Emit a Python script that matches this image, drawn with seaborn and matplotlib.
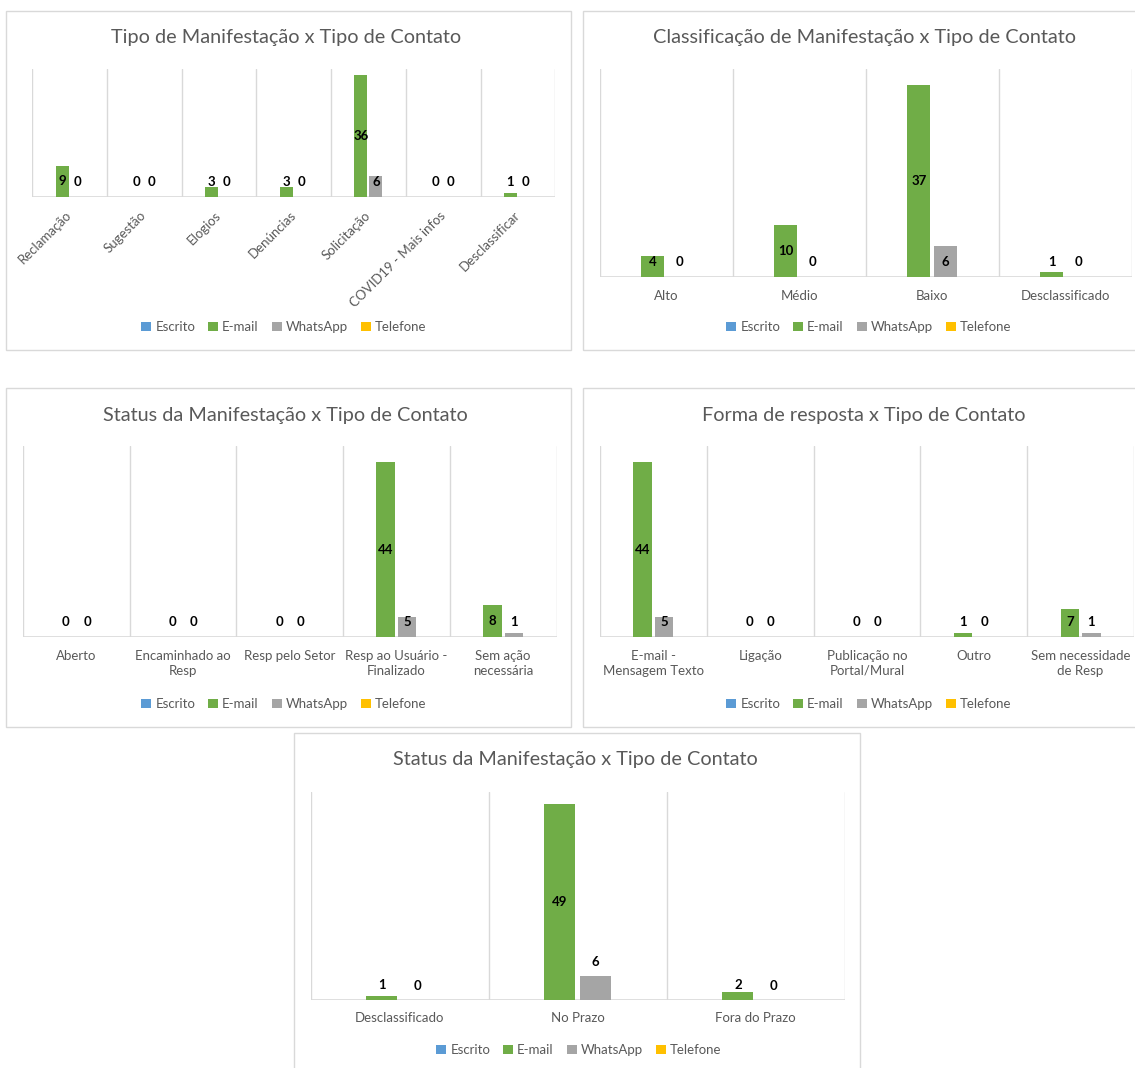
import numpy as np
import pandas as pd
import seaborn as sns
import matplotlib.pyplot as plt
from matplotlib.colors import to_hex
from matplotlib.patches import Patch, Rectangle

# --- data ---
series = ["Escrito", "E-mail", "WhatsApp", "Telefone"]
colors = ["#5B9BD5", "#70AD47", "#A5A5A5", "#FFC000"]

tipo_cats = ["Reclamação", "Sugestão", "Elogios", "Denúncias", "Solicitação",
             "COVID19 - Mais infos", "Desclassificar"]
tipo_email = [9, 0, 3, 3, 36, 0, 1]
tipo_whats = [0, 0, 0, 0, 6, 0, 0]

classif_cats = ["Alto", "Médio", "Baixo", "Desclassificado"]
classif_email = [4, 10, 37, 1]
classif_whats = [0, 0, 6, 0]

status_cats = ["Aberto", "Encaminhado ao\nResp", "Resp pelo Setor",
               "Resp ao Usuário -\nFinalizado", "Sem ação\nnecessária"]
status_email = [0, 0, 0, 44, 8]
status_whats = [0, 0, 0, 5, 1]

forma_cats = ["E-mail -\nMensagem Texto", "Ligação", "Publicação no\nPortal/Mural",
              "Outro", "Sem necessidade\nde Resp"]
forma_email = [44, 0, 0, 1, 7]
forma_whats = [5, 0, 0, 0, 1]

prazo_cats = ["Desclassificado", "No Prazo", "Fora do Prazo"]
prazo_email = [1, 49, 2]
prazo_whats = [0, 6, 0]

W, H = 1135, 1068
TXT = "#595959"
GRID = "#D9D9D9"

sns.set_theme(style="white")
plt.rcParams['font.family'] = ['Lato', 'DejaVu Sans']

fig = plt.figure(figsize=(W / 100, H / 100), dpi=100)
fig.patch.set_facecolor("white")


def frame(x0, y0, x1, y1):
    fig.patches.append(Rectangle((x0 / W, 1 - y1 / H), (x1 - x0) / W, (y1 - y0) / H,
                                 transform=fig.transFigure, fill=False,
                                 edgecolor=GRID, linewidth=1.0))


def panel(box, cats, email, whats, ytop, title, title_xy, legend_xy,
          rotate=False, modes=("center", "center")):
    left, top, right, bottom = box
    ax = fig.add_axes([left / W, 1 - bottom / H, (right - left) / W, (bottom - top) / H])
    ax.patch.set_alpha(0)

    df = pd.DataFrame({
        "cat": cats * 4,
        "tipo": [s for s in series for _ in cats],
        "val": [np.nan] * len(cats) + list(email) + list(whats) + [np.nan] * len(cats),
    })
    sns.barplot(data=df, x="cat", y="val", hue="tipo", order=cats, hue_order=series,
                palette=dict(zip(series, colors)), saturation=1, width=0.8, gap=0.13,
                linewidth=0, errorbar=None, legend=False, ax=ax)

    n = len(cats)
    ax.set_xlim(-0.5, n - 0.5)
    ax.set_ylim(0, ytop)
    for k in range(n + 1):
        ax.axvline(k - 0.5, color=GRID, linewidth=1.0, zorder=0)
    ax.axhline(0, color=GRID, linewidth=1.2, zorder=0)
    for s in ax.spines.values():
        s.set_visible(False)
    ax.set_yticks([])
    ax.set_xlabel("")
    ax.set_ylabel("")
    ax.tick_params(axis="x", length=0, colors=TXT, labelsize=9.5, pad=9)
    if rotate:
        ax.set_xticks(range(n), cats, rotation=45, ha="right", va="center",
                      rotation_mode="anchor")
        ax.tick_params(axis="x", pad=12)
    else:
        ax.set_xticks(range(n), cats, linespacing=1.3)

    # data labels, bars found by their colour
    px_per_unit = (bottom - top) / ytop
    mode_of = {colors[1]: modes[0], colors[2]: modes[1]}
    for p in ax.patches:
        col = to_hex(p.get_facecolor()).upper()
        if col not in mode_of:
            continue
        v = p.get_height()
        if np.isnan(v):
            continue
        xc = p.get_x() + p.get_width() / 2
        h = v * px_per_unit
        if mode_of[col] == "outside":
            ypx = h + 14
        else:
            ypx = max(h / 2, 15)
        ax.annotate(f"{int(round(v))}", xy=(xc, 0), xytext=(0, ypx * 0.72),
                    textcoords="offset points", ha="center", va="center",
                    fontsize=9.5, fontweight="bold", color="black")

    fig.text(title_xy[0] / W, 1 - title_xy[1] / H, title, ha="center", va="center",
             fontsize=14.3, color=TXT)
    handles = [Patch(facecolor=c, edgecolor="none") for c in colors]
    fig.legend(handles, series, loc="center", ncol=4, frameon=False,
               bbox_to_anchor=(legend_xy[0] / W, 1 - legend_xy[1] / H),
               fontsize=9.5, labelcolor=TXT, handlelength=0.75, handleheight=0.75,
               handletextpad=0.3, columnspacing=1.0)
    return ax


frame(6, 11, 571, 350)
frame(583, 11, 1145, 350)
frame(6, 388, 571, 727)
frame(583, 388, 1145, 727)
frame(294, 733, 860, 1080)

panel((32.3, 69, 555.2, 196.7), tipo_cats, tipo_email, tipo_whats, 37.7,
      "Tipo de Manifestação x Tipo de Contato", (286, 37), (284, 327), rotate=True)
panel((599.7, 69, 1131.7, 277.3), classif_cats, classif_email, classif_whats, 40,
      "Classificação de Manifestação x Tipo de Contato", (864, 37), (869, 327))
panel((23, 446, 556.5, 637.3), status_cats, status_email, status_whats, 48.1,
      "Status da Manifestação x Tipo de Contato", (285.5, 415), (284, 704))
panel((600, 446, 1134, 637.3), forma_cats, forma_email, forma_whats, 48.1,
      "Forma de resposta x Tipo de Contato", (864, 415), (869, 704))
panel((310.7, 792.3, 844.7, 1000), prazo_cats, prazo_email, prazo_whats, 52,
      "Status da Manifestação x Tipo de Contato", (575, 760), (579, 1050),
      modes=("center", "outside"))

fig.savefig("out.png", dpi=100, facecolor="white")
